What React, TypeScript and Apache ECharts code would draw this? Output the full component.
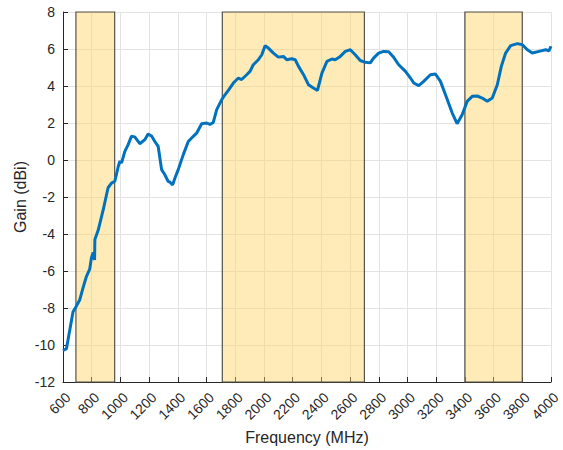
import React, { useEffect, useRef } from "react";
import * as echarts from "echarts";

const freqMHz = [
  600, 624, 670, 693, 717, 740, 763, 786, 798, 810, 820, 822, 845, 880, 914, 938, 961, 985, 996, 1008,
  1031, 1054, 1077, 1100, 1135, 1170, 1193, 1217, 1240, 1263, 1287, 1310, 1333, 1345, 1364, 1380, 1403,
  1438, 1473, 1508, 1531, 1566, 1601, 1624, 1647, 1671, 1706, 1717, 1752, 1787, 1822, 1845, 1880, 1903,
  1926, 1961, 1985, 2008, 2031, 2066, 2101, 2136, 2159, 2194, 2218, 2241, 2276, 2310, 2345, 2373, 2404,
  2439, 2474, 2497, 2532, 2567, 2602, 2636, 2671, 2706, 2741, 2764, 2799, 2834, 2869, 2904, 2939, 2986,
  3021, 3044, 3079, 3113, 3160, 3195, 3230, 3265, 3312, 3346, 3381, 3416, 3451, 3486, 3521, 3556, 3591,
  3626, 3654, 3684, 3719, 3766, 3801, 3835, 3870, 3916, 3963, 3986, 4000,
];
const gainDBi = [
  -10.3, -10.2, -8.2, -7.9, -7.55, -6.9, -6.3, -5.9, -5.3, -5.0, -5.4, -4.3, -3.8, -2.7, -1.5, -1.25,
  -1.15, -0.35, -0.07, -0.16, 0.47, 0.83, 1.28, 1.25, 0.88, 1.1, 1.4, 1.3, 1.0, 0.74, -0.52, -0.8, -1.16,
  -1.2, -1.34, -0.97, -0.52, 0.29, 1.0, 1.28, 1.45, 1.96, 2.0, 1.92, 2.03, 2.72, 3.26, 3.4, 3.76, 4.16,
  4.43, 4.35, 4.61, 4.79, 5.15, 5.42, 5.69, 6.18, 6.05, 5.78, 5.56, 5.6, 5.42, 5.47, 5.42, 5.06, 4.61,
  4.07, 3.89, 3.76, 4.7, 5.33, 5.46, 5.42, 5.6, 5.87, 5.96, 5.69, 5.38, 5.28, 5.25, 5.51, 5.78, 5.87,
  5.85, 5.55, 5.15, 4.79, 4.43, 4.16, 4.02, 4.25, 4.61, 4.65, 4.25, 3.53, 2.54, 1.96, 2.45, 3.17, 3.44,
  3.46, 3.35, 3.17, 3.35, 4.07, 5.06, 5.78, 6.18, 6.29, 6.23, 5.96, 5.78, 5.87, 5.96, 5.9, 6.15,
];
const bandStarts = [690, 1710, 3400];
const bandEnds = [960, 2700, 3800];

const xTicks = { min: 600, max: 4000, interval: 200 };
const yTicks = { min: -12, max: 8, interval: 2 };

export default function App() {
  const ref = useRef<HTMLDivElement>(null);
  useEffect(() => {
    if (!ref.current) return;
    const chart = echarts.init(ref.current, undefined, { renderer: "svg" });
    const font = "Arial, 'Liberation Sans', sans-serif";
    const textColor = "#262626";
    const axisCommon = {
      nameMoveOverlap: false,
      axisLine: { show: true, onZero: false, lineStyle: { color: textColor, width: 1 } },
      axisTick: { show: true, inside: true, length: 5, lineStyle: { color: textColor } },
      splitLine: { show: true, lineStyle: { color: "#e3e3e3", width: 1 } },
      nameTextStyle: { color: textColor, fontSize: 16, fontFamily: font },
    };
    chart.setOption({
      animation: false,
      backgroundColor: "#ffffff",
      grid: { left: 63, right: 12, top: 12, bottom: 68 },
      xAxis: {
        type: "value",
        ...xTicks,
        ...axisCommon,
        name: "Frequency (MHz)",
        nameLocation: "middle",
        nameGap: 47,
        axisLabel: {
          rotate: 45,
          color: textColor,
          fontSize: 14,
          fontFamily: font,
          margin: 8,
          verticalAlign: "top",
          formatter: (v: number) => String(v),
        },
      },
      yAxis: {
        type: "value",
        ...yTicks,
        ...axisCommon,
        name: "Gain (dBi)",
        nameLocation: "middle",
        nameGap: 35,
        axisLabel: {
          color: textColor,
          fontSize: 14,
          fontFamily: font,
          margin: 8,
          formatter: (v: number) => String(v),
        },
      },
      series: [
        {
          type: "line",
          data: [],
          z: 1,
          silent: true,
          markArea: {
            silent: true,
            itemStyle: {
              color: "rgba(254, 210, 95, 0.45)",
              borderColor: "#55534c",
              borderWidth: 1.2,
            },
            data: bandStarts.map((s, i) => [
              { xAxis: s, yAxis: yTicks.min },
              { xAxis: bandEnds[i], yAxis: yTicks.max },
            ]),
          },
        },
        {
          type: "line",
          z: 5,
          data: freqMHz.map((f, i) => [f, gainDBi[i]]),
          showSymbol: false,
          symbol: "none",
          lineStyle: { color: "#0072BD", width: 3 },
          itemStyle: { color: "#0072BD" },
        },
      ],
    });
    return () => chart.dispose();
  }, []);
  return (
    <div
      ref={ref}
      style={{ position: "fixed", left: 0, top: 0, width: 563, height: 450 }}
    />
  );
}
